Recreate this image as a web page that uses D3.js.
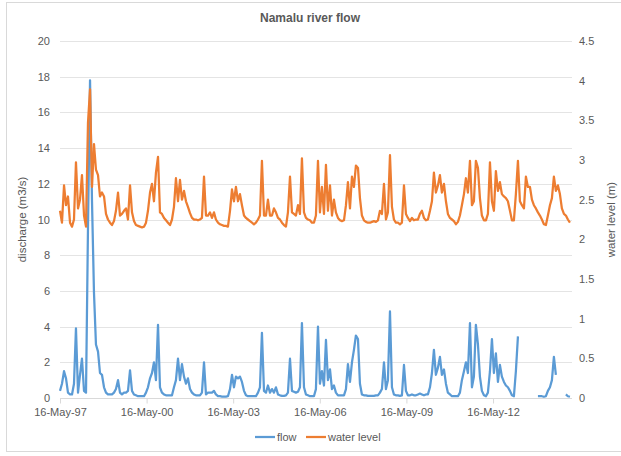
<!DOCTYPE html>
<html>
<head>
<meta charset="utf-8">
<script src="https://cdn.jsdelivr.net/npm/d3@7/dist/d3.min.js"></script>
<style>
  body { margin: 0; background: #fff; }
  svg { display: block; font-family: "Liberation Sans", Arial, sans-serif; }
  .tick-label { fill: #595959; font-size: 11px; }
</style>
</head>
<body>
<svg id="chart" width="621" height="456"></svg>
<script>
// Samples, one roughly every 25 days from 16-May-1997
var startDate = new Date(1997, 4, 16);
var sampleDays = 25.3;

// discharge (m3/s), null where the record has gaps
var flow = [
  0.4, 0.8, 1.5, 1.1, 0.3, 0.2, 0.2, 0.8, 3.9, 0.3,
  1.3, 2.2, 0.4, 0.3, 9.5, 17.8, 11.0, 5.9, 3.0, 2.6,
  1.4, 1.3, 0.6, 0.3, 0.2, 0.2, 0.2, 0.3, 0.5, 1.0,
  0.3, 0.2, 0.3, 0.3, 0.4, 1.55, 0.4, 0.2, 0.15, 0.1,
  0.1, 0.1, 0.1, 0.3, 0.6, 1.1, 1.4, 2.0, 1.0, 4.1,
  0.6, 0.3, 0.2, 0.15, 0.15, 0.15, 0.15, 0.6, 1.0, 2.2,
  1.0, 1.9, 1.2, 0.8, 1.1, 0.5, 0.3, 0.2, 0.15, 0.15,
  0.15, 0.3, 2.0, 0.2, 0.3, 0.3, 0.3, 0.4, 0.2, 0.1,
  0.1, 0.08, 0.08, 0.08, 0.1, 0.5, 1.3, 0.6, 1.2, 1.1,
  1.2, 0.9, 0.4, 0.15, 0.1, 0.1, 0.1, 0.1, 0.1, 0.3,
  0.6, 3.65, 0.4, 0.3, 0.7, 0.3, 0.5, 0.3, 0.6, 0.2,
  0.15, 0.12, 0.12, 0.15, 0.3, 2.2, 0.4, 0.35, 0.3, 0.35,
  0.6, 4.2, 0.6, 0.2, 0.15, 0.1, 0.1, 0.1, 0.5, 4.0,
  0.8, 1.5, 0.7, 3.25, 1.0, 1.6, 0.5, 0.7, 0.3, 0.15,
  0.15, 0.15, 0.15, 0.5, 1.9, 0.9, 2.0, 2.7, 3.5, 3.3,
  0.8, 0.2, 0.15, 0.15, 0.12, 0.12, 0.12, 0.12, 0.15, 0.15,
  0.3, 0.5, 2.0, 0.5, 1.0, 4.85, 0.6, 0.2, 0.15, 0.15,
  0.12, 0.15, 1.85, 0.4, 0.15, 0.15, 0.2, 0.15, 0.15, 0.2,
  0.25, 0.2, 0.15, 0.2, 0.2, 0.6, 1.4, 2.7, 1.3, 1.7,
  2.3, 1.3, 1.6, 0.8, 0.3, 0.2, 0.1, 0.1, 0.1, 0.1,
  0.3, 1.0, 1.5, 2.0, 1.4, 4.2, 0.6, 1.2, 4.1, 3.0,
  1.2, 0.4, 0.15, 0.1, 0.3, 1.5, 3.3, 1.4, 2.5, 0.9,
  1.85, 1.2, 0.9, 0.7, 0.6, 0.4, 0.15, 0.1, 1.5, 3.45,
  null, null, null, null, null, null, null, null, null, 0.1,
  0.1, 0.1, 0.07, 0.1, 0.4, 0.6, 1.0, 2.3, 1.3, null,
  null, null, null, 0.2, 0.1, 0.07
];

// water level (m)
var waterLevel = [
  2.36, 2.21, 2.68, 2.43, 2.54, 2.21, 2.16, 2.25, 2.97, 2.39,
  2.50, 2.81, 2.30, 2.16, 3.47, 3.89, 2.66, 3.20, 2.88, 2.81,
  2.54, 2.59, 2.54, 2.32, 2.25, 2.21, 2.18, 2.23, 2.36, 2.59,
  2.30, 2.32, 2.36, 2.39, 2.25, 2.68, 2.34, 2.23, 2.18, 2.17,
  2.16, 2.15, 2.16, 2.21, 2.36, 2.59, 2.70, 2.48, 2.84, 3.04,
  2.34, 2.32, 2.27, 2.24, 2.21, 2.18, 2.25, 2.41, 2.77, 2.48,
  2.75, 2.50, 2.61, 2.48, 2.41, 2.33, 2.27, 2.25, 2.25, 2.24,
  2.25, 2.27, 2.79, 2.30, 2.30, 2.34, 2.27, 2.34, 2.25, 2.21,
  2.19, 2.18, 2.17, 2.17, 2.16, 2.36, 2.63, 2.48, 2.66, 2.48,
  2.57, 2.43, 2.30, 2.27, 2.25, 2.23, 2.21, 2.19, 2.21, 2.25,
  2.30, 2.99, 2.30, 2.30, 2.50, 2.30, 2.30, 2.39, 2.34, 2.27,
  2.25, 2.21, 2.18, 2.16, 2.34, 2.79, 2.34, 2.32, 2.30, 2.43,
  2.32, 3.02, 2.34, 2.27, 2.25, 2.24, 2.21, 2.21, 2.30, 2.99,
  2.34, 2.66, 2.32, 2.94, 2.36, 2.68, 2.30, 2.50, 2.34, 2.27,
  2.24, 2.23, 2.24, 2.43, 2.72, 2.39, 2.79, 2.66, 2.93, 2.90,
  2.52, 2.30, 2.24, 2.22, 2.21, 2.21, 2.22, 2.23, 2.22, 2.24,
  2.36, 2.32, 2.70, 2.25, 2.34, 3.06, 2.41, 2.25, 2.21, 2.21,
  2.19, 2.21, 2.68, 2.32, 2.27, 2.23, 2.27, 2.24, 2.25, 2.25,
  2.32, 2.36, 2.27, 2.24, 2.25, 2.36, 2.48, 2.84, 2.59, 2.68,
  2.81, 2.59, 2.70, 2.48, 2.32, 2.27, 2.25, 2.23, 2.19, 2.22,
  2.30, 2.43, 2.57, 2.77, 2.59, 2.99, 2.43, 2.48, 2.99, 2.90,
  2.52, 2.30, 2.24, 2.24, 2.32, 2.97, 2.48, 2.36, 2.86, 2.61,
  2.72, 2.57, 2.54, 2.52, 2.48, 2.36, 2.24, 2.24, 2.57, 2.99,
  2.48, 2.43, 2.39, 2.79, 2.66, 2.66, 2.50, 2.43, 2.39, 2.34,
  2.30, 2.25, 2.19, 2.18, 2.30, 2.43, 2.52, 2.79, 2.61, 2.68,
  2.57, 2.39, 2.32, 2.30, 2.25, 2.21
];

var flowTicks = [0, 2, 4, 6, 8, 10, 12, 14, 16, 18, 20];
var levelTicks = [0, 0.5, 1, 1.5, 2, 2.5, 3, 3.5, 4, 4.5];
var dateTicks = [
  new Date(1997, 4, 16), new Date(2000, 4, 16), new Date(2003, 4, 16),
  new Date(2006, 4, 16), new Date(2009, 4, 16), new Date(2012, 4, 16)
];
var endDate = new Date(2015, 1, 9);

var colors = {flow: '#5b9bd5', level: '#ed7d31'};
var textColor = '#595959';

var margin = {left: 60, right: 49, top: 41, bottom: 58};
var width = 621, height = 456;

var svg = d3.select('#chart');

// chart area border
svg.append('rect')
  .attr('x', 6.5).attr('y', 2.5)
  .attr('width', 700).attr('height', 449)
  .attr('fill', 'none')
  .attr('stroke', '#d9d9d9');

var x = d3.scaleTime()
  .domain([startDate, endDate])
  .range([margin.left, width - margin.right]);
var yFlow = d3.scaleLinear()
  .domain([0, 20])
  .range([height - margin.bottom, margin.top]);
var yLevel = d3.scaleLinear()
  .domain([0, 4.5])
  .range([height - margin.bottom, margin.top]);

var dates = flow.map(function(d, i) {
  return d3.timeDay.offset(startDate, Math.round(i * sampleDays));
});

// Gridlines
svg.append('g')
  .attr('class', 'grid')
  .selectAll('line')
  .data(flowTicks.slice(1))
  .join('line')
    .attr('x1', margin.left)
    .attr('x2', width - margin.right)
    .attr('y1', function(d) { return Math.round(yFlow(d)) + 0.5; })
    .attr('y2', function(d) { return Math.round(yFlow(d)) + 0.5; })
    .attr('stroke', '#e4e4e4');

// Left axis
var leftAxis = svg.append('g')
  .attr('transform', 'translate(' + (margin.left - 10) + ',0)')
  .call(d3.axisLeft(yFlow).tickValues(flowTicks).tickSize(0).tickPadding(0));
leftAxis.select('.domain').remove();
leftAxis.selectAll('text').attr('class', 'tick-label');

// Right axis
var rightAxis = svg.append('g')
  .attr('transform', 'translate(' + (width - margin.right + 7) + ',0)')
  .call(d3.axisRight(yLevel).tickValues(levelTicks).tickSize(0).tickPadding(0)
    .tickFormat(d3.format('')));
rightAxis.select('.domain').remove();
rightAxis.selectAll('text').attr('class', 'tick-label');

// Bottom axis
var bottomAxis = svg.append('g')
  .attr('transform', 'translate(0,' + (Math.round(yFlow(0)) + 0.5) + ')')
  .call(d3.axisBottom(x).tickValues(dateTicks).tickSize(5).tickPadding(5)
    .tickFormat(d3.timeFormat('%d-%b-%y')));
bottomAxis.select('.domain')
  .attr('d', 'M' + margin.left + ',0H' + (width - margin.right))
  .attr('stroke', '#d9d9d9');
bottomAxis.selectAll('.tick line').attr('stroke', '#d9d9d9');
bottomAxis.selectAll('text').attr('class', 'tick-label');

// Series
var flowLine = d3.line()
  .defined(function(d, i) { return flow[i] !== null; })
  .x(function(d, i) { return x(dates[i]); })
  .y(function(d) { return yFlow(d); });

var levelLine = d3.line()
  .x(function(d, i) { return x(dates[i]); })
  .y(function(d) { return yLevel(d); });

svg.append('path')
  .datum(flow)
  .attr('d', flowLine)
  .attr('fill', 'none')
  .attr('stroke', colors.flow)
  .attr('stroke-width', 2.25)
  .attr('stroke-linejoin', 'round');

svg.append('path')
  .datum(waterLevel)
  .attr('d', levelLine)
  .attr('fill', 'none')
  .attr('stroke', colors.level)
  .attr('stroke-width', 2.25)
  .attr('stroke-linejoin', 'round');

// Title and axis titles
svg.append('text')
  .attr('x', 310).attr('y', 22)
  .attr('text-anchor', 'middle')
  .attr('fill', textColor)
  .style('font-size', '12px')
  .style('font-weight', 'bold')
  .text('Namalu river flow');

svg.append('text')
  .attr('transform', 'translate(26,' + yFlow(10) + ') rotate(-90)')
  .attr('text-anchor', 'middle')
  .attr('fill', textColor)
  .style('font-size', '11.5px')
  .text('discharge (m3/s)');

svg.append('text')
  .attr('transform', 'translate(615,' + yFlow(10) + ') rotate(-90)')
  .attr('text-anchor', 'middle')
  .attr('fill', textColor)
  .style('font-size', '11.5px')
  .text('water level (m)');

// Legend
var legendItems = [
  {name: 'flow', color: colors.flow, x: 255},
  {name: 'water level', color: colors.level, x: 306}
];
var legend = svg.append('g').attr('transform', 'translate(0,437)');
legendItems.forEach(function(item) {
  legend.append('line')
    .attr('x1', item.x).attr('x2', item.x + 20)
    .attr('y1', 0).attr('y2', 0)
    .attr('stroke', item.color)
    .attr('stroke-width', 2.25);
  legend.append('text')
    .attr('x', item.x + 22).attr('y', 4)
    .attr('class', 'tick-label')
    .text(item.name);
});
</script>
</body>
</html>
